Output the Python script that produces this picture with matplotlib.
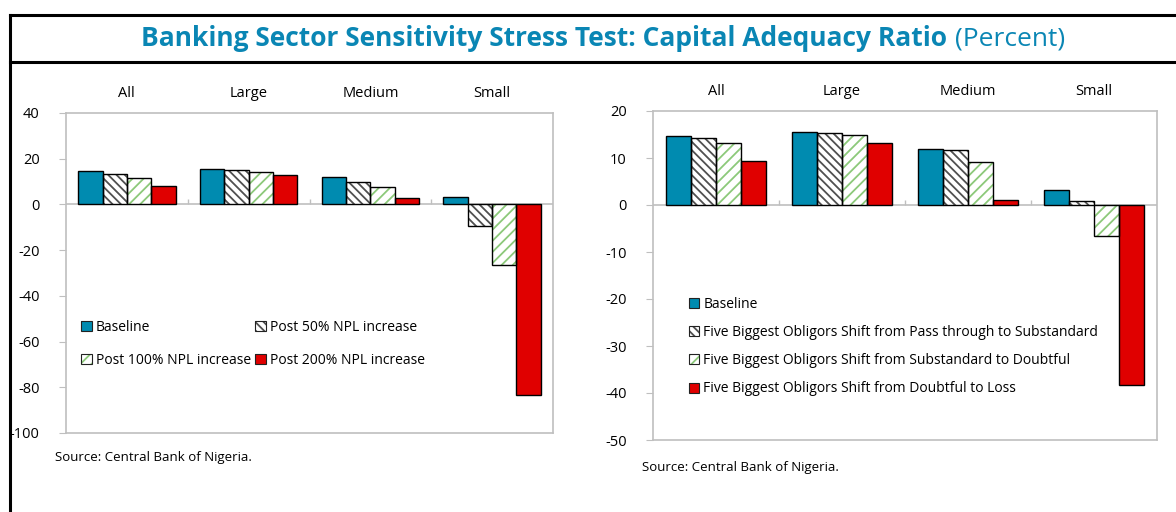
import numpy as np
import matplotlib.pyplot as plt
import matplotlib.colors as mcolors
from matplotlib.lines import Line2D
from matplotlib.patches import Patch

plt.rcParams['font.family'] = ['Open Sans', 'DejaVu Sans']
plt.rcParams['axes.unicode_minus'] = False
plt.rcParams['hatch.linewidth'] = 1.3

#### data ####
categories = ['All', 'Large', 'Medium', 'Small']

npl_labels = ['Baseline', 'Post 50% NPL increase',
              'Post 100% NPL increase', 'Post 200% NPL increase']
npl_values = [
    [14.7, 15.6, 12.1, 3.1],
    [13.3, 15.2, 9.9, -9.6],
    [11.7, 14.3, 7.7, -26.7],
    [8.2, 12.7, 2.6, -83.5],
]

obl_labels = ['Baseline',
              'Five Biggest Obligors Shift from Pass through to Substandard',
              'Five Biggest Obligors Shift from Substandard to Doubtful',
              'Five Biggest Obligors Shift from Doubtful to Loss']
obl_values = [
    [14.7, 15.6, 12.0, 3.2],
    [14.3, 15.4, 11.6, 0.9],
    [13.2, 14.9, 9.2, -6.6],
    [9.3, 13.2, 1.0, -38.3],
]

left_ticks = [40, 20, 0, -20, -40, -60, -80, -100]
right_ticks = [20, 10, 0, -10, -20, -30, -40, -50]

# fill colour, hatch, hatch colour
styles = [('#008BB0', None, '#008BB0'),
          ('white', '\\\\\\\\', '#505050'),
          ('white', '///', '#8CC97A'),
          ('#E00000', None, '#E00000')]

TITLE_BLUE = '#0A86B4'
GRID = '#BFBFBF'


def set_hatch_colour(p, hc):
    try:
        p.set_hatchcolor(hc)
    except AttributeError:
        p._hatch_color = mcolors.to_rgba(hc)


def draw_panel(ax, values, labels, ticks, order, legend_kw):
    x = np.arange(len(categories))
    w = 0.2
    handles = []
    for i, vals in enumerate(values):
        fc, hatch, hc = styles[i]
        pos = x - 0.3 + i * w
        # hatch layer then black outline on top
        bars = ax.bar(pos, vals, w, color=fc, hatch=hatch, edgecolor=hc, linewidth=0, zorder=2)
        for p in bars:
            set_hatch_colour(p, hc)
        ax.bar(pos, vals, w, fill=False, edgecolor='black', linewidth=1.0, zorder=3)
        hp = Patch(facecolor=fc, hatch=hatch, edgecolor=hc, linewidth=0)
        set_hatch_colour(hp, hc)
        handles.append((hp, Patch(fill=False, edgecolor='#222222', linewidth=0.8)))
    ax.set_xlim(-0.5, len(categories) - 0.5)
    ax.set_ylim(ticks[-1], ticks[0])
    ax.set_yticks(ticks)
    ax.set_xticks([])
    ax.axhline(0, color=GRID, lw=1.2, zorder=1)
    tick_h = (ticks[0] - ticks[-1]) * 0.016
    ax.vlines(x[:-1] + 0.5, 0, tick_h, color=GRID, lw=1.0, zorder=1)
    for s in ax.spines.values():
        s.set_color(GRID)
        s.set_linewidth(1.2)
    ax.tick_params(axis='y', colors=GRID, labelcolor='black', labelsize=10.5,
                   length=5, pad=14)
    for c, cat in zip(x, categories):
        ax.text(c, 1.06, cat, transform=ax.get_xaxis_transform(),
                ha='center', va='center', fontsize=10.5)
    ax.legend([handles[k] for k in order], [labels[k] for k in order],
              frameon=False, fontsize=10,
              handlelength=0.75, handleheight=0.75, handletextpad=0.3,
              borderaxespad=0, **legend_kw)


fig = plt.figure(figsize=(11.76, 5.12), dpi=100)

ax1 = fig.add_axes([66 / 1176, 79 / 512, 487 / 1176, 320 / 512])
draw_panel(ax1, npl_values, npl_labels, left_ticks, [0, 2, 1, 3],
           dict(ncol=2, loc='upper left', bbox_to_anchor=(0.02, 0.372),
                columnspacing=0.3, labelspacing=1.3))

ax2 = fig.add_axes([653 / 1176, 72 / 512, 504 / 1176, 329 / 512])
draw_panel(ax2, obl_values, obl_labels, right_ticks, [0, 1, 2, 3],
           dict(ncol=1, loc='upper left', bbox_to_anchor=(0.06, 0.452),
                labelspacing=0.95))

# title row and frame
fig.text(947 / 1176, 1 - 39 / 512,
         'Banking Sector Sensitivity Stress Test: Capital Adequacy Ratio',
         ha='right', va='center', fontsize=19, fontweight='bold', color=TITLE_BLUE)
fig.text(955 / 1176, 1 - 39 / 512, '(Percent)', ha='left', va='center',
         fontsize=19, color=TITLE_BLUE)

fig.text(55 / 1176, 1 - 457 / 512, 'Source: Central Bank of Nigeria.',
         ha='left', va='center', fontsize=9.5)
fig.text(642 / 1176, 1 - 468 / 512, 'Source: Central Bank of Nigeria.',
         ha='left', va='center', fontsize=9.5)

for y in (15, 62):
    fig.add_artist(Line2D([10 / 1176, 1], [1 - y / 512] * 2, color='black', lw=2.2))
fig.add_artist(Line2D([10 / 1176] * 2, [0, 1 - 15 / 512], color='black', lw=2.2))

fig.savefig('out.png', dpi=100)
